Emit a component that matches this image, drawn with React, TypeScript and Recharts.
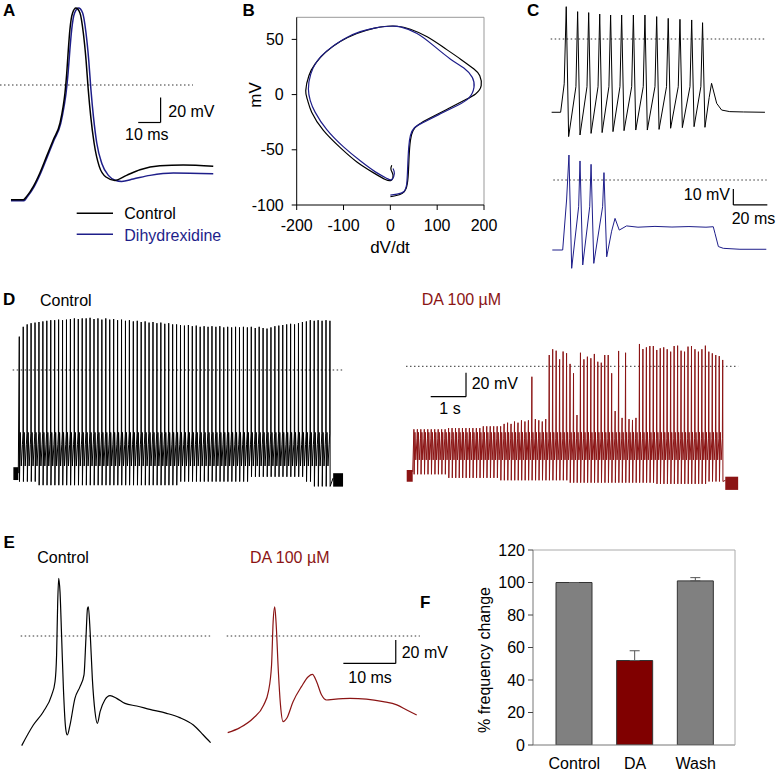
import {
  LineChart,
  Line,
  XAxis,
  YAxis,
  ReferenceLine,
  ReferenceArea,
  BarChart,
  Bar,
  Cell,
  ErrorBar,
} from 'recharts'

const FONT = '"Liberation Sans", Arial, Helvetica, sans-serif'
const BLACK = '#000000'
const BLUE = '#1e1e8a'
const RED = '#8b1414'
const DOT = '#333333'

// A: single action potentials (ms, mV)
const aControl = [
  [0, -91.8], [5.5, -91.8], [7.0, -89.1], [10.0, -81.1], [12.9, -70.4], [15.9, -57.1],
  [18.9, -43.8], [21.9, -30.4], [23.3, -17.1], [24.1, -6.4], [24.9, 9.6], [25.6, 28.2],
  [26.3, 44.2], [27.5, 57.6], [29.0, 61.6], [30.8, 57.6], [32.3, 41.6], [33.5, 20.2],
  [34.5, -3.8], [35.6, -25.1], [37.1, -46.4], [39.4, -65.1], [42.4, -73.6], [46.4, -76.3],
  [51.6, -72.3], [57.6, -67.8], [66.5, -64.6], [76.9, -64.0], [90.3, -65.1],
]
const aDihydrexidine = [
  [0, -92.6], [5.8, -92.6], [7.3, -89.5], [10.3, -81.5], [13.2, -70.8], [16.2, -57.5],
  [19.2, -44.2], [22.2, -30.8], [23.7, -17.1], [24.6, -6.4], [25.5, 9.6], [26.3, 28.2],
  [27.1, 44.2], [28.4, 57.6], [30.2, 61.6], [32.0, 57.6], [33.5, 41.6], [34.7, 20.2],
  [35.7, -3.8], [36.8, -25.1], [38.3, -46.4], [40.6, -63], [43.6, -72.5], [46.5, -76.2],
  [49.4, -77.1], [54.6, -75.2], [62.1, -72.3], [72.5, -70.4], [90.3, -71.0],
]

// B: phase plots (dV/dt, mV)
const bControl = [
  [0, -92.5], [10.7, -91.6], [25, -89.5], [33.6, -85], [37.9, -74.5], [40, -56.5],
  [42.9, -41.4], [48.6, -32.4], [60.7, -27], [85.7, -21], [121.4, -13.2], [157, -5.4],
  [182, 0.6], [194, 8.1], [191, 17.1], [178.6, 23.1], [150, 32.1], [114, 42.6],
  [78.6, 52.3], [42.9, 59.2], [14.3, 61.9], [-7.1, 61.9], [-35.7, 60], [-71.4, 55.3],
  [-107, 48], [-139, 38], [-161, 27.6], [-174, 17.1], [-180.7, 3.6], [-177, -4.8],
  [-168, -15.9], [-143, -32.4], [-107, -48], [-71.4, -61], [-35.7, -70.9], [-10.7, -76.9],
  [2.1, -77.5], [5.7, -73], [1.4, -67.9], [2.9, -64],
]
const bDihydrexidine = [
  [0, -91], [14.3, -90.1], [28.6, -88], [35, -80.5], [37, -65.5], [39.3, -47.4],
  [42.9, -37], [51.4, -30], [71.4, -25], [107, -17.4], [143, -9.9], [168, -3],
  [178.6, 6.6], [175, 15.6], [157, 24], [128.6, 32.1], [92.9, 44.1], [57, 55.3],
  [21.4, 61.3], [0, 61.9], [-28.6, 60.7], [-64.3, 57], [-100, 50.2], [-135.7, 39.6],
  [-157, 30], [-170, 18.6], [-175, 5.1], [-171, -5.4], [-160.7, -15.9], [-135.7, -31.8],
  [-100, -47.4], [-64.3, -60], [-32, -70], [-7, -76], [3.6, -76.9], [8.6, -71.5], [5.7, -67],
]

// C: short trains (ms, mV)
const cControlTimes = [7.8, 14.5, 21, 27.5, 33.9, 40.4, 47.3, 54.1, 61, 67.8, 74.7, 81.6, 88]
const cControlPeaks = [20.2, 17.1, 16.5, 15.6, 15, 15, 15, 15, 14, 12.9, 12.3, 11.9, 10.2]
const cControlTroughs = [-61, -60, -59, -58.5, -57.9, -57.3, -56.9, -56.9, -56.5, -55.8, -55.4, -54.8, -55.2]
const cControlLead = [[-0.8, -45.8], [4.5, -45.8], [6.6, -28]]
const cControlTail = [
  [91.9, -36.5], [93.3, -27.7], [96.3, -40.2], [99.2, -44.4], [104, -45.4], [112, -45.6], [124.7, -45.8],
]
const cDhxTimes = [9.4, 15.9, 22.4, 30]
const cDhxPeaks = [15.6, 11.9, 9.8, 4.6]
const cDhxTroughs = [-55.2, -53.1, -52.1, -48]
const cDhxLead = [[-0.4, -43.75], [5.7, -43.75], [8.0, -12.5]]
const cDhxTail = [
  [34.5, -32], [36.5, -24], [39, -31.3], [43.3, -28.7], [50, -29.5], [60, -29], [70, -29.4],
  [80, -29.1], [90, -29.5], [94.3, -29.2], [95.3, -33.3], [97.3, -41.6], [100.2, -42.7],
  [110, -43.3], [125.5, -43.3],
]

// D: long trains (s, mV), one peak / trough per cycle
const dControlStart = 0.178
const dControlStep = 0.1114
const dControlPeaks = [
  27.8, 36, 38, 39, 39.5, 40, 40.5, 41, 41.5, 41.5,
  42, 41.5, 42, 42.5, 43, 42.5, 43, 43, 43.5, 42.5,
  43, 42, 43, 42, 42.5, 41.5, 42, 41, 41.5, 40.5,
  41, 40, 40.5, 39.5, 40, 39, 39.5, 38.5, 39, 38,
  38, 37.5, 37, 37.5, 36.5, 37, 36, 36.5, 36, 36.5,
  36, 36.5, 35.5, 36, 35.5, 36, 35.5, 36, 35.5, 36,
  35, 36, 35, 34.5, 35.5, 36.5, 37, 37.5, 38, 38.5,
  38, 39, 40, 40.5, 41.5, 41, 41.5, 41, 41.5, 41,
]
const dControlTroughs = [
  -93, -93, -93, -93, -93, -96, -96, -96, -96, -96,
  -96, -96, -96, -96, -96, -96, -96, -96, -96, -96,
  -96, -96, -96, -96, -96, -96, -96, -96, -96, -96,
  -96, -96, -96, -96, -96, -96, -96, -96, -96, -96,
  -96, -93, -93, -93, -93, -93, -93, -93, -93, -93,
  -93, -93, -93, -93, -93, -93, -93, -93, -93, -89,
  -89, -89, -89, -89, -89, -89, -89, -89, -89, -89,
  -89, -89, -89, -93, -93, -97, -97, -97, -97, -97,
]
const dControlShapeFrac = [0.05, 0.25, 0.5, 0.8, 0.95]
const dControlShapeLevel = [-52, -80, -62, -53]

const dDaStart = 0.204
const dDaStep = 0.0983
const dDaPeaks = [
  -52.5, -52.5, -52.5, -52.5, -52.5, -52.5, -52.5, -52.5, -52.5, -52.5,
  -51.5, -51.5, -51.5, -51.5, -51.5, -51.5, -51.5, -51.5, -51.5, -51.5,
  -50, -50, -50, -50, -50, -50, -48, -47, -48, -46,
  -47, -45, -46, -45, -8.7, -44, -45, -46, -44,
  9.4, 14.2, 13, 5.8, 12.3, 10.9, 2, -5.8, -40.6, 11.3,
  5.8, 8, 6.7, 10.3, 3.8, 3, 9.4, 9.4, -5.8, -37.3,
  12.8, -43, 11.3, -44, -44.7, -43, 18.6, 14.4, 15.8, 16.9,
  16.9, 13.6, 15, 15.8, 14.2, 12.2, 16.9, 17.2, 13, 12.2,
  16.4, 16.9, 14.2, 12.2, 14.2, 17.2, 12.2, 10.8, 9.4, 8.5,
  5.3,
]
const dDaTroughs = [
  -90, -90, -90, -90, -90, -90, -90, -90, -90, -90,
  -93, -93, -93, -93, -93, -93, -93, -93, -93, -93,
  -93, -93, -93, -93, -93, -95, -95, -95, -95, -95,
  -95, -95, -95, -95, -95, -95, -95, -95, -95, -95,
  -95, -95, -95, -95, -95, -97, -97, -97, -97, -97,
  -97, -97, -97, -97, -97, -97, -97, -97, -97, -97,
  -97, -97, -97, -97, -97, -97, -97, -97, -97, -97,
  -98, -98, -98, -98, -98, -98, -98, -98, -98, -98,
  -98, -98, -98, -98, -98, -96, -96, -96, -96, -96,
]
const dDaShapeFrac = [0.06, 0.3, 0.55, 0.9]
const dDaShapeLevel = [-55, -78, -60]

// E: burst vs single spike (ms, mV)
const eControl = [
  [-0.06, -93.7], [2.16, -76.1], [4.07, -64.7], [5.66, -50.5], [6.3, -39.1], [6.6, -16.2],
  [6.8, 26.5], [7.0, 49.3], [7.25, 37.9], [7.57, -2], [7.9, -44.7], [8.33, -78.9],
  [8.65, -84.6], [9.16, -76.1], [10.1, -53.3], [11.07, -43.3], [11.83, -33.3], [12.2, -2],
  [12.5, 23.6], [12.66, 25], [13, 3.7], [13.42, -36.2], [13.93, -64.7], [14.38, -74.7],
  [14.9, -64.7], [15.8, -54.7], [16.8, -51], [18.07, -53.3], [19.65, -57.6], [21.9, -59.8],
  [24.4, -62.7], [27.6, -66.1], [30.1, -69.8], [32.7, -76.1], [34.6, -84.6], [36, -91.2],
]
const eDa = [
  [0.13, -82.6], [2.48, -78.3], [5.0, -70.3], [7, -58.9], [7.9, -47.4], [8.5, -24.8],
  [8.8, 12.2], [9.1, 25], [9.35, 12.2], [9.8, -30.5], [10.2, -58.9], [10.7, -73.2],
  [11.4, -70.3], [12.6, -56.1], [14.2, -43.3], [15.5, -34.8], [16.3, -32.8], [17.1, -39.1],
  [18.05, -50.5], [19, -54.7], [20.3, -54.1], [23.5, -53.3], [26.6, -53.9], [29.8, -56.1],
  [32.4, -58.9], [34.3, -63.2], [36.2, -67.5],
]

// F: bar chart
const fCategories = ['Control', 'DA', 'Wash']
const fValues = [100, 52, 101]
const fErrors = [0, 6, 2]
const fColors = ['#808080', '#800000', '#808080']
const fTicks = [0, 20, 40, 60, 80, 100, 120]

const toTV = (arr: number[][]) => arr.map(([t, v]) => ({ t, v }))
const toXY = (arr: number[][]) => arr.map(([x, y]) => ({ x, y }))

function buildTrain(
  start: number, step: number, peaks: number[], troughs: number[],
  fracs: number[], levels: number[], lead: number[][], tail: number[][],
) {
  const out = toTV(lead)
  peaks.forEach((p, i) => {
    const tp = start + i * step
    out.push({ t: tp, v: p })
    out.push({ t: tp + fracs[0] * step, v: troughs[i] })
    if (i < peaks.length - 1) {
      levels.forEach((lv, j) => out.push({ t: tp + fracs[j + 1] * step, v: lv }))
    }
  })
  return out.concat(toTV(tail))
}

function buildSpikes(
  times: number[], peaks: number[], troughs: number[], troughDelay: number,
  kneeLead: number, kneeV: number, lead: number[][], tail: number[][],
) {
  const out = toTV(lead)
  times.forEach((tp, i) => {
    out.push({ t: tp, v: peaks[i] })
    out.push({ t: tp + troughDelay, v: troughs[i] })
    if (i < times.length - 1) out.push({ t: times[i + 1] - kneeLead, v: kneeV })
  })
  return out.concat(toTV(tail))
}

const cControlSeries = buildSpikes(cControlTimes, cControlPeaks, cControlTroughs, 1.4, 1.0, -29.8, cControlLead, cControlTail)
const cDhxSeries = buildSpikes(cDhxTimes, cDhxPeaks, cDhxTroughs, 1.6, 0.8, -16.7, cDhxLead, cDhxTail)
const dControlSeries = buildTrain(dControlStart, dControlStep, dControlPeaks, dControlTroughs,
  dControlShapeFrac, dControlShapeLevel, [[0.15, -86]], [[9.07, -90]])
const dDaSeries = buildTrain(dDaStart, dDaStep, dDaPeaks, dDaTroughs,
  dDaShapeFrac, dDaShapeLevel, [[0.17, -88]], [[9.03, -95]])

const fData = fCategories.map((name, i) => ({ name, value: fValues[i], err: [0, fErrors[i]] }))

interface TraceProps {
  left: number
  top: number
  width: number
  height: number
  xDomain: [number, number]
  yDomain: [number, number]
  children: React.ReactNode
}

function TraceChart({ left, top, width, height, xDomain, yDomain, children }: TraceProps) {
  return (
    <div style={{ position: 'absolute', left, top }}>
      <LineChart width={width} height={height} margin={{ top: 0, right: 0, bottom: 0, left: 0 }}>
        <XAxis type="number" dataKey="t" domain={xDomain} hide allowDataOverflow />
        <YAxis type="number" domain={yDomain} hide allowDataOverflow />
        {children}
      </LineChart>
    </div>
  )
}

const dotted = (x1: number, x2: number) => (
  <ReferenceLine
    segment={[{ x: x1, y: 0 }, { x: x2, y: 0 }]}
    stroke={DOT}
    strokeDasharray="1.5 2.5"
    ifOverflow="visible"
  />
)

const bar = (x1: number, y1: number, x2: number, y2: number) => (
  <ReferenceLine segment={[{ x: x1, y: y1 }, { x: x2, y: y2 }]} stroke={BLACK} strokeWidth={1.2} ifOverflow="visible" />
)

const lineProps = { dot: false, activeDot: false, isAnimationActive: false, dataKey: 'v' }

const tickStyle = { fill: '#000', fontSize: 16, fontFamily: FONT }

export default function App() {
  return (
    <div style={{ position: 'absolute', left: 0, top: 0, width: 776, height: 771, background: '#fff', fontFamily: FONT }}>
      {/* A */}
      <TraceChart left={0} top={0} width={216} height={210} xDomain={[-4.9, 91.53]} yDomain={[-100, 68]}>
        {dotted(-4.9, 81.25)}
        <Line {...lineProps} data={toTV(aDihydrexidine)} type="monotone" stroke={BLUE} strokeWidth={1.5} />
        <Line {...lineProps} data={toTV(aControl)} type="monotone" stroke={BLACK} strokeWidth={1.5} />
        {bar(66.8, -10, 66.8, -30)}
        {bar(56.8, -30, 66.8, -30)}
      </TraceChart>

      {/* B */}
      <div style={{ position: 'absolute', left: 230, top: 10 }}>
        <LineChart width={270} height={250} margin={{ top: 7.3, right: 16, left: 0, bottom: 0 }}>
          <XAxis
            type="number"
            dataKey="x"
            domain={[-200, 200]}
            ticks={[-200, -100, 0, 100, 200]}
            tickSize={5}
            tickMargin={10}
            height={55}
            axisLine={{ stroke: BLACK }}
            tickLine={{ stroke: BLACK }}
            tick={tickStyle}
            allowDataOverflow
          />
          <YAxis
            type="number"
            domain={[-100, 70]}
            ticks={[-100, -50, 0, 50]}
            width={66.7}
            tickSize={5}
            tickMargin={8}
            axisLine={{ stroke: BLACK }}
            tickLine={{ stroke: BLACK }}
            tick={tickStyle}
            allowDataOverflow
          />
          <ReferenceLine y={70} stroke="#999" ifOverflow="visible" />
          <ReferenceLine x={200} stroke="#999" ifOverflow="visible" />
          <Line dot={false} activeDot={false} isAnimationActive={false} data={toXY(bControl)} dataKey="y" type="natural" stroke={BLACK} strokeWidth={1.2} />
          <Line dot={false} activeDot={false} isAnimationActive={false} data={toXY(bDihydrexidine)} dataKey="y" type="natural" stroke={BLUE} strokeWidth={1.2} />
        </LineChart>
      </div>

      {/* C */}
      <TraceChart left={545} top={0} width={231} height={145} xDomain={[-4.7, 131.2]} yDomain={[-66.25, 24.375]}>
        {dotted(-1.35, 124.7)}
        <Line {...lineProps} data={cControlSeries} type="linear" stroke={BLACK} strokeWidth={1} />
      </TraceChart>
      <TraceChart left={545} top={145} width={231} height={130} xDomain={[-4.7, 131.2]} yDomain={[-59.375, 21.875]}>
        {dotted(0.2, 125.7)}
        <Line {...lineProps} data={cDhxSeries} type="linear" stroke={BLUE} strokeWidth={1} />
        {bar(106.1, -5.6, 106.1, -15.6)}
        {bar(106.1, -15.6, 126.1, -15.6)}
      </TraceChart>

      {/* D */}
      <TraceChart left={5} top={310} width={345} height={185} xDomain={[-0.227, 9.547]} yDomain={[-104.17, 50]}>
        {dotted(-0.01, 9.36)}
        <ReferenceArea x1={0.01} x2={0.15} y1={-81} y2={-91.7} fill={BLACK} fillOpacity={1} stroke="none" ifOverflow="visible" />
        <ReferenceArea x1={9.07} x2={9.35} y1={-86} y2={-97.2} fill={BLACK} fillOpacity={1} stroke="none" ifOverflow="visible" />
        <Line {...lineProps} data={dControlSeries} type="linear" stroke={BLACK} strokeWidth={1} />
      </TraceChart>
      <TraceChart left={400} top={330} width={345} height={165} xDomain={[-0.19, 9.584]} yDomain={[-107.25, 30.25]}>
        {dotted(-0.02, 9.39)}
        <ReferenceArea x1={0} x2={0.17} y1={-86.4} y2={-96.2} fill={RED} fillOpacity={1} stroke="none" ifOverflow="visible" />
        <ReferenceArea x1={9.025} x2={9.39} y1={-92} y2={-103} fill={RED} fillOpacity={1} stroke="none" ifOverflow="visible" />
        <Line {...lineProps} data={dDaSeries} type="linear" stroke={RED} strokeWidth={1} />
        {bar(1.68, -5.3, 1.68, -25.3)}
        {bar(0.68, -25.3, 1.68, -25.3)}
      </TraceChart>

      {/* E */}
      <TraceChart left={0} top={570} width={215} height={190} xDomain={[-4.2, 36.83]} yDomain={[-105.98, 56.41]}>
        {dotted(-0.25, 35.9)}
        <Line {...lineProps} data={toTV(eControl)} type="monotone" stroke={BLACK} strokeWidth={1.2} />
      </TraceChart>
      <TraceChart left={220} top={570} width={205} height={190} xDomain={[-1.34, 37.78]} yDomain={[-105.98, 56.41]}>
        {dotted(-0.06, 36.8)}
        <Line {...lineProps} data={toTV(eDa)} type="monotone" stroke={RED} strokeWidth={1.2} />
        {bar(32.2, -3.4, 32.2, -23.4)}
        {bar(22.2, -23.4, 32.2, -23.4)}
      </TraceChart>

      {/* F */}
      <div style={{ position: 'absolute', left: 420, top: 540 }}>
        <BarChart width={350} height={231} data={fData} margin={{ top: 10, right: 35, bottom: 0, left: 0 }}>
          <XAxis
            dataKey="name"
            tickLine={false}
            axisLine={{ stroke: '#777' }}
            tick={tickStyle}
            tickMargin={7}
            height={26}
            padding={{ left: 11, right: 9 }}
            interval={0}
          />
          <YAxis
            domain={[0, 120]}
            ticks={fTicks}
            width={113}
            tickSize={5}
            tickMargin={3}
            axisLine={{ stroke: '#777' }}
            tickLine={{ stroke: '#444' }}
            tick={tickStyle}
            allowDataOverflow
          />
          <ReferenceLine y={120} stroke="#aaa" ifOverflow="visible" />
          <Bar dataKey="value" barSize={36} stroke="#333" strokeWidth={1} isAnimationActive={false}>
            {fData.map((d, i) => (
              <Cell key={d.name} fill={fColors[i]} />
            ))}
            <ErrorBar dataKey="err" width={5} stroke="#555" strokeWidth={1} direction="y" />
          </Bar>
        </BarChart>
      </div>

      {/* labels and legend */}
      <svg width={776} height={771} style={{ position: 'absolute', left: 0, top: 0, pointerEvents: 'none' }} fontFamily={FONT}>
        <g fontWeight="bold" fontSize={17} fill="#000">
          <text x={3} y={16}>A</text>
          <text x={242.5} y={16}>B</text>
          <text x={527} y={16}>C</text>
          <text x={3} y={305}>D</text>
          <text x={3.5} y={548}>E</text>
          <text x={420} y={608}>F</text>
        </g>
        <g fontSize={16} fill="#000">
          <text x={168.3} y={117.3}>20 mV</text>
          <text x={125} y={140}>10 ms</text>
          <text x={124.3} y={219.3}>Control</text>
          <text x={124.3} y={240.7} fill={BLUE}>Dihydrexidine</text>
          <text x={730} y={200} textAnchor="end">10 mV</text>
          <text x={731.7} y={224}>20 ms</text>
          <text x={40} y={305.7}>Control</text>
          <text x={421.7} y={305} fill={RED}>DA 100 µM</text>
          <text x={471.7} y={389.3}>20 mV</text>
          <text x={439.3} y={414.3}>1 s</text>
          <text x={37.3} y={563.3}>Control</text>
          <text x={250} y={563.3} fill={RED}>DA 100 µM</text>
          <text x={401.7} y={658.3}>20 mV</text>
          <text x={348.3} y={683.3}>10 ms</text>
          <text transform="translate(484,660) rotate(-90)" textAnchor="middle" dominantBaseline="central">% frequency change</text>
        </g>
        <g fontSize={17} fill="#000">
          <text transform="translate(255,95) rotate(-90)" textAnchor="middle" dominantBaseline="central">mV</text>
          <text x={390} y={253} textAnchor="middle">dV/dt</text>
        </g>
        <line x1={76.7} y1={213.3} x2={113} y2={213.3} stroke={BLACK} strokeWidth={1.5} />
        <line x1={76.7} y1={234.3} x2={113} y2={234.3} stroke={BLUE} strokeWidth={1.5} />
        <line x1={735} y1={550} x2={735} y2={745} stroke="#aaa" strokeWidth={1} />
      </svg>
    </div>
  )
}
